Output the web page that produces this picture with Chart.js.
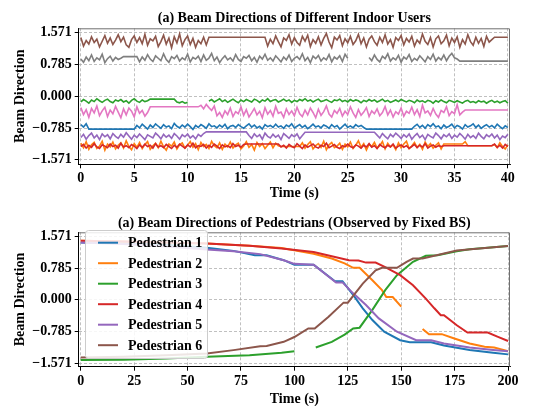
<!DOCTYPE html>
<html>
<head>
<meta charset="utf-8">
<script src="https://cdn.jsdelivr.net/npm/chart.js@4.4.1/dist/chart.umd.min.js"></script>
<style>
  body { margin: 0; background: #fff; }
  #wrap { position: relative; width: 557px; height: 406px; }
  canvas { position: absolute; left: 0; }
  #indoorChart { top: 0; }
  #pedChart { top: 200px; }
</style>
</head>
<body>
<div id="wrap">
  <canvas id="indoorChart" width="557" height="200"></canvas>
  <canvas id="pedChart" width="557" height="206"></canvas>
</div>
<script>
const COLORS = ['#1f77b4', '#ff7f0e', '#2ca02c', '#d62728', '#9467bd', '#8c564b', '#e377c2', '#7f7f7f'];
const FONT = 'Liberation Serif';

const beamTicks = [-1.571, -0.785, 0, 0.785, 1.571];
const beamTickLabels = ['\u22121.571', '\u22120.785', '0.000', '0.785', '1.571'];
const indoorTimeTicks = [0, 5, 10, 15, 20, 25, 30, 35, 40];
const pedTimeTicks = [0, 25, 50, 75, 100, 125, 150, 175, 200];

// indoor users, one sample every 0.25 s from 0 to 40 s
const indoorTime = Array.from({ length: 161 }, (_, i) => i * 0.25);

const user1 = [
  -0.70, -0.76, -0.68,
  -0.81, -0.81, -0.81, -0.81, -0.81, -0.81, -0.81, -0.81, -0.81, -0.81,
  -0.81, -0.81, -0.81, -0.81, -0.81, -0.81, -0.81, -0.81,
  -0.72, -0.78, -0.69, -0.75, -0.81, -0.71, -0.77, -0.68, -0.74, -0.79,
  -0.70, -0.76, -0.73, -0.80, -0.67, -0.74, -0.78, -0.71, -0.76, -0.69,
  -0.75, -0.82, -0.72, -0.77, -0.70, -0.74, -0.79, -0.68, -0.75, -0.73,
  -0.78, -0.71, -0.76, -0.69, -0.80, -0.74, -0.72, -0.77, -0.70, -0.75,
  -0.79, -0.73, -0.68, -0.76, -0.71, -0.78, -0.74, -0.81, -0.70, -0.75,
  -0.72, -0.77, -0.69, -0.76, -0.73, -0.79, -0.71, -0.75, -0.68, -0.78,
  -0.74, -0.70, -0.77, -0.72, -0.80, -0.75, -0.69, -0.76, -0.73, -0.78,
  -0.71, -0.74, -0.79, -0.70, -0.76, -0.72, -0.81, -0.75, -0.69, -0.77,
  -0.73, -0.78, -0.70, -0.75, -0.72, -0.77,
  -0.81, -0.81, -0.81, -0.81, -0.81, -0.81, -0.81, -0.81, -0.81, -0.81,
  -0.81, -0.81, -0.81, -0.81, -0.81, -0.81, -0.81, -0.81,
  -0.74, -0.69, -0.77, -0.72, -0.79, -0.70, -0.75, -0.68, -0.76, -0.73,
  -0.80, -0.71, -0.77, -0.74, -0.69, -0.78, -0.72, -0.75, -0.81, -0.70,
  -0.76, -0.73, -0.68, -0.77, -0.71, -0.79, -0.74, -0.70, -0.76, -0.72,
  -0.78, -0.69, -0.75, -0.80, -0.73, -0.77
];

const user2 = [
  -1.16, -1.27, -1.12, -1.31, -1.20, -1.14, -1.29, -1.23, -1.11, -1.33,
  -1.18, -1.25, -1.13, -1.30, -1.21, -1.15, -1.28, -1.10, -1.24, -1.32,
  -1.17, -1.26, -1.14, -1.29, -1.19, -1.12, -1.31, -1.22, -1.16, -1.27,
  -1.11, -1.25, -1.33, -1.18, -1.23, -1.13, -1.30, -1.20, -1.15, -1.28,
  -1.21, -1.12, -1.26, -1.17, -1.32, -1.14, -1.24, -1.19, -1.29, -1.11,
  -1.22, -1.27, -1.15, -1.31, -1.18, -1.25, -1.13, -1.28, -1.20, -1.16,
  -1.30, -1.23, -1.12, -1.26, -1.19, -1.33, -1.14, -1.24, -1.17, -1.29,
  -1.21, -1.13, -1.27, -1.16, -1.22,
  -1.24, -1.24, -1.24, -1.24, -1.24, -1.24, -1.24, -1.24,
  -1.15, -1.28, -1.19, -1.12, -1.30, -1.22, -1.17, -1.26, -1.11, -1.32,
  -1.20, -1.14, -1.27, -1.23, -1.16, -1.31, -1.18, -1.25, -1.13, -1.29,
  -1.21, -1.10, -1.26, -1.17, -1.33, -1.19, -1.24, -1.14, -1.28, -1.22,
  -1.12, -1.30, -1.16, -1.25, -1.20, -1.32, -1.15, -1.27, -1.18, -1.11,
  -1.29, -1.23, -1.14, -1.26, -1.19, -1.31, -1.13, -1.24, -1.17, -1.28,
  -1.21, -1.15, -1.30, -1.18,
  -1.18, -1.18, -1.18, -1.18, -1.18, -1.18, -1.18,
  -1.12,
  -1.22, -1.22, -1.22, -1.22, -1.22, -1.22, -1.22, -1.22, -1.22, -1.22,
  -1.19, -1.27, -1.15, -1.24, -1.30, -1.20
];

const user3 = [
  -0.14, -0.08, -0.12, -0.17, -0.09, -0.13, -0.06, -0.11, -0.15, -0.10,
  -0.07, -0.13, -0.16, -0.09, -0.12, -0.08, -0.14, -0.11, -0.17, -0.10,
  -0.06, -0.12, -0.15, -0.09, -0.13, -0.11,
  -0.07, -0.07, -0.07, -0.07, -0.07, -0.07, -0.07, -0.07, -0.07, -0.07,
  -0.14, -0.16, -0.13, -0.17, -0.15,
  null, null, null, null, null, null, null,
  -0.12, -0.08, -0.14, -0.10, -0.06, -0.13, -0.09, -0.15, -0.11, -0.07,
  -0.12, -0.16, -0.09, -0.13, -0.08, -0.11, -0.14, -0.07, -0.10, -0.15,
  -0.09, -0.12, -0.06, -0.13, -0.10, -0.08, -0.14, -0.11, -0.07, -0.12,
  -0.09, -0.15, -0.10, -0.13, -0.08, -0.11, -0.06, -0.12, -0.09, -0.14,
  -0.10, -0.07, -0.13, -0.11, -0.08, -0.12, -0.15, -0.09, -0.11, -0.07,
  -0.13, -0.10, -0.14, -0.08, -0.12, -0.09, -0.11, -0.16, -0.10, -0.13,
  -0.08, -0.12, -0.09, -0.14, -0.11, -0.07, -0.13, -0.10, -0.15, -0.12,
  -0.09, -0.13, -0.08, -0.11, -0.14, -0.10, -0.12, -0.16, -0.09, -0.13,
  -0.11, -0.15, -0.10, -0.12, -0.17, -0.11, -0.14, -0.09, -0.13, -0.16,
  -0.10, -0.12, -0.15, -0.11, -0.14, -0.17, -0.12, -0.10, -0.15, -0.13,
  -0.16, -0.11, -0.14, -0.12, -0.17, -0.13, -0.10, -0.15, -0.12, -0.16,
  -0.13, -0.11, -0.17
];

const user4 = [
  -1.24, -1.19, -1.28, -1.21, -1.26, -1.17, -1.25, -1.29, -1.20, -1.23,
  -1.27, -1.18, -1.24, -1.21, -1.28, -1.16, -1.25, -1.22, -1.27, -1.19,
  -1.23, -1.29, -1.20, -1.26, -1.18, -1.24, -1.21, -1.28, -1.17, -1.25,
  -1.22, -1.27, -1.19, -1.24, -1.29, -1.21, -1.26, -1.18, -1.23, -1.28,
  -1.20, -1.25, -1.16, -1.27, -1.22, -1.24, -1.19, -1.28, -1.21, -1.26,
  -1.18, -1.23, -1.29, -1.20, -1.25, -1.22, -1.27, -1.17, -1.24, -1.21,
  -1.26, -1.19,
  -1.18, -1.18, -1.18, -1.18, -1.18, -1.18, -1.18, -1.18, -1.18, -1.18,
  -1.18, -1.18, -1.18,
  -1.25, -1.21, -1.28, -1.19, -1.24, -1.27, -1.17, -1.23, -1.29, -1.20,
  -1.26, -1.22, -1.18, -1.25, -1.28, -1.21, -1.24, -1.16, -1.27, -1.23,
  -1.19, -1.26, -1.29, -1.22, -1.25, -1.18, -1.24, -1.27, -1.20, -1.23,
  -1.28, -1.21, -1.25, -1.17, -1.26, -1.22, -1.29, -1.19, -1.24, -1.27,
  -1.21, -1.25, -1.18, -1.28, -1.23, -1.20, -1.26, -1.22, -1.29, -1.24,
  -1.19, -1.27, -1.21, -1.25, -1.17, -1.28, -1.23, -1.20, -1.26, -1.22,
  -1.24,
  -1.22, -1.22, -1.22, -1.22, -1.22, -1.22, -1.22, -1.22, -1.22, -1.22,
  -1.22, -1.22, -1.22, -1.22, -1.22, -1.22, -1.22, -1.22, -1.22,
  -1.18, -1.26, -1.21, -1.28, -1.19, -1.24
];

const user5 = [
  -1.02, -0.94, -1.06, -0.97, -0.91, -1.03, -0.96, -1.07, -0.93, -1.00,
  -0.95, -1.05, -0.92, -0.99, -1.04, -0.94, -1.01, -0.90, -0.98, -1.06,
  -0.96, -1.02, -0.93, -1.00, -1.07, -0.95, -0.99, -1.03, -0.91, -0.97,
  -1.05, -0.94, -1.01, -0.96, -1.04, -0.92, -0.98, -1.06, -0.95, -1.00,
  -0.93, -1.03, -0.97, -1.05, -0.94, -0.99, -0.92,
  -0.88, -0.88, -0.88, -0.88, -0.88, -0.88, -0.88, -0.88, -0.88, -0.88,
  -0.88, -0.88, -0.88, -0.88, -0.88, -0.88,
  -0.97, -1.04, -0.93, -1.00, -0.95, -1.06, -0.91, -0.99, -1.03, -0.94,
  -1.01, -0.96, -1.07, -0.92, -0.98, -1.04, -0.95, -1.00, -0.93, -1.05,
  -0.97,
  -0.89, -0.89, -0.89, -0.89, -0.89, -0.89, -0.89, -0.89, -0.89, -0.89,
  -0.89, -0.89, -0.89, -0.89, -0.89, -0.89, -0.89, -0.89, -0.89, -0.89,
  -0.89, -0.89, -0.89, -0.89, -0.89, -0.89, -0.89,
  -0.96, -1.03, -0.92, -0.99, -1.05, -0.94, -1.00, -0.91, -0.97, -1.04,
  -0.95, -1.01, -0.93, -1.06, -0.98, -0.92, -1.02, -0.96, -1.07, -0.94,
  -0.99, -1.03, -0.91, -0.97, -1.05, -0.95, -1.00, -0.93, -1.04, -0.96,
  -1.01, -0.92, -0.98, -1.06, -0.94, -1.02, -0.97, -1.04, -0.91, -0.99,
  -1.05, -0.95, -1.00, -0.93, -1.03, -0.96, -1.07, -0.98, -1.02, -0.94
];

const user6 = [
  1.45, 1.24, 1.38, 1.29, 1.47, 1.33, 1.41, 1.22, 1.36, 1.50,
  1.31, 1.44, 1.28, 1.39, 1.52, 1.35, 1.46, 1.27, 1.21, 1.40,
  1.49, 1.33, 1.45, 1.30, 1.53, 1.26, 1.42, 1.37, 1.48, 1.23,
  1.35, 1.51, 1.29, 1.44, 1.20, 1.47, 1.32, 1.54, 1.25, 1.40,
  1.49, 1.28, 1.43, 1.21, 1.38, 1.30, 1.46, 1.27,
  1.46, 1.46, 1.46, 1.46, 1.46, 1.46, 1.46, 1.46, 1.46, 1.46,
  1.46, 1.46, 1.46, 1.46, 1.46, 1.46, 1.46, 1.46, 1.46, 1.46,
  1.46, 1.46,
  1.24, 1.41, 1.30, 1.49, 1.35, 1.22, 1.44, 1.38, 1.52, 1.29,
  1.45, 1.33, 1.26, 1.48, 1.36, 1.51, 1.23, 1.40, 1.31, 1.47,
  1.27, 1.43, 1.55, 1.34, 1.20, 1.46, 1.39, 1.50, 1.25, 1.42,
  1.32, 1.48, 1.28, 1.37, 1.53, 1.30, 1.44, 1.22, 1.41, 1.49,
  1.35, 1.26, 1.46, 1.33, 1.52, 1.29, 1.40, 1.21, 1.45, 1.38,
  1.50, 1.27, 1.43, 1.34, 1.48, 1.24, 1.39, 1.31, 1.54, 1.36,
  1.28, 1.45, 1.22, 1.42, 1.49, 1.30, 1.37, 1.51, 1.25, 1.44,
  1.33, 1.47, 1.21, 1.40, 1.29, 1.52, 1.35, 1.26, 1.46, 1.31,
  1.43, 1.23, 1.48, 1.34, 1.40,
  1.46, 1.46, 1.46, 1.46, 1.46, 1.46
];

const user7 = [
  -0.28, -0.45, -0.33, -0.52, -0.30, -0.41, -0.24, -0.48, -0.36, -0.27,
  -0.50, -0.34, -0.43, -0.25, -0.39, -0.53, -0.31, -0.46, -0.29, -0.37,
  -0.51, -0.26, -0.42, -0.35, -0.49, -0.40,
  -0.26, -0.26, -0.26, -0.26, -0.26, -0.26, -0.26, -0.26, -0.26, -0.26,
  -0.26, -0.26, -0.26, -0.26, -0.26, -0.26, -0.26, -0.26, -0.26,
  -0.22, -0.31, -0.20, -0.28, -0.35, -0.24,
  -0.48, -0.40, -0.52, -0.36, -0.45, -0.29, -0.50, -0.38, -0.43, -0.26,
  -0.47, -0.33, -0.51, -0.41, -0.30, -0.46, -0.37, -0.53, -0.28, -0.44,
  -0.35, -0.49, -0.25, -0.42, -0.39, -0.52, -0.31, -0.45, -0.36, -0.48,
  -0.27, -0.43, -0.50, -0.34, -0.46, -0.29, -0.40, -0.53, -0.32, -0.47,
  -0.38, -0.24, -0.44, -0.51, -0.35, -0.42, -0.30, -0.49, -0.37, -0.45,
  -0.26, -0.41, -0.52, -0.33, -0.47, -0.39, -0.28, -0.50, -0.36, -0.43,
  -0.31, -0.48, -0.40, -0.25, -0.46, -0.34, -0.51, -0.38, -0.44, -0.29,
  -0.49, -0.37, -0.42, -0.27, -0.45, -0.33, -0.50, -0.22, -0.41, -0.36,
  -0.47, -0.30, -0.44,
  -0.52, -0.35, -0.40, -0.26, -0.48, -0.38, -0.43, -0.21, -0.46, -0.39,
  -0.34, -0.34, -0.34, -0.34, -0.34, -0.34, -0.34, -0.34, -0.34, -0.34,
  -0.34, -0.34, -0.34, -0.34, -0.34, -0.34, -0.34
];

const user8 = [
  0.92, 0.84, 0.97, 0.88, 1.02, 0.86, 0.95, 0.90, 1.04, 0.83,
  0.93, 0.99, 0.87, 0.96, 0.91, 0.94,
  0.98, 0.98, 0.98, 0.98, 0.98, 0.98,
  0.85, 0.97, 0.89, 1.03, 0.92, 0.86, 1.00, 0.94, 0.88, 1.05,
  0.91, 0.84, 0.98, 0.93, 1.01, 0.87, 0.95, 0.90, 1.04, 0.85,
  0.96, 0.92, 0.99, 0.86, 1.02, 0.89, 0.94, 1.06, 0.88, 0.97,
  0.83, 0.93, 1.00, 0.90, 0.95, 0.87, 1.03, 0.91, 0.86, 0.98,
  0.94, 1.01, 0.88, 0.96, 0.84, 0.99, 0.92, 1.04, 0.89, 0.95,
  0.87, 1.00, 0.93, 0.85, 0.97, 0.90, 1.02, 0.86, 0.94, 0.98,
  0.91, 1.05, 0.88, 0.96, 0.83, 0.99, 0.93, 1.01, 0.87, 0.95,
  0.90, 1.03, 0.85, 0.97, 0.92, 1.00, 0.86, 1.04, 0.94,
  null, null, null, null, null, null, null,
  0.96, 0.88, 1.02, 0.91, 0.85, 0.99, 0.93, 1.05, 0.87, 0.95,
  0.90, 1.01, 0.84, 0.97, 0.92, 1.03, 0.86, 0.94, 0.89, 1.00,
  0.93, 0.85, 0.98, 0.91, 1.04, 0.87, 0.96, 0.90, 1.02, 0.88,
  0.99, 1.06, 0.95, 0.92,
  0.87, 0.87, 0.87, 0.87, 0.87, 0.87, 0.87, 0.87, 0.87, 0.87,
  0.87, 0.87, 0.87, 0.87, 0.87, 0.87, 0.87, 0.87, 0.87
];

const indoorSeries = [user1, user2, user3, user4, user5, user6, user7, user8];
indoorSeries.forEach((s, k) => {
  if (s.length !== indoorTime.length) throw new Error('user' + (k + 1) + ' has ' + s.length + ' samples');
});

// pedestrians: breakpoints of each track (null = track lost)
const pedLabels = ['Pedestrian 1', 'Pedestrian 2', 'Pedestrian 3', 'Pedestrian 4', 'Pedestrian 5', 'Pedestrian 6'];

const ped1Time = [0, 20, 40, 59, 71.5, 81.5, 87, 95, 100, 109, 119, 122.5, 127.5, 132, 136.5, 142, 149.5, 154, 164, 170, 182, 193, 200];
const ped1Beam = [1.42, 1.40, 1.36, 1.29, 1.21, 1.10, 1.10, 0.98, 0.87, 0.87, 0.46, 0.46, 0.12, -0.21, -0.50, -0.79, -1.00, -1.05, -1.05, -1.13, -1.24, -1.31, -1.35];

const ped2Time = [0, 20, 40, 59, 79, 94, 109, 117.5, 123.5, 127.5, 130.5, 136.5, 141, 143, 146, 150, 155, 160, 163, 169, 174.5, 182, 189, 193.5, 200];
const ped2Beam = [1.46, 1.44, 1.42, 1.39, 1.34, 1.28, 1.14, 1.02, 0.90, 0.79, 0.79, 0.485, 0.24, 0.07, 0.07, -0.17, null, -0.72, -0.85, -0.85, -0.95, -1.08, -1.16, -1.18, -1.27];

const ped3Time = [0, 20, 40, 59, 79, 94, 100, 105, 110, 117.5, 123.5, 127.5, 130.5, 136.5, 142.5, 148, 155.5, 161.5, 167, 176, 182, 200];
const ped3Beam = [-1.49, -1.48, -1.45, -1.41, -1.37, -1.31, -1.27, null, -1.18, -1.04, -0.86, -0.71, -0.69, -0.25, 0.24, 0.61, 0.94, 1.09, 1.10, 1.20, 1.25, 1.33];

const ped4Time = [0, 20, 40, 59, 79, 94, 109, 119, 125.5, 130, 133.5, 138, 142.5, 149.5, 155.5, 161.5, 165.5, 168.5, 170, 176, 181, 190.5, 195, 200];
const ped4Beam = [1.46, 1.44, 1.42, 1.39, 1.34, 1.27, 1.18, 1.06, 0.98, 0.97, 0.92, 0.92, 0.81, 0.61, 0.36, 0.03, -0.21, -0.38, -0.38, -0.63, -0.81, -0.81, -0.91, -1.02];

const ped5Time = [0, 20, 40, 59, 71.5, 84, 95, 100, 109, 119.5, 122.5, 127.5, 133.5, 139.5, 148, 157, 164, 170, 182, 193, 200];
const ped5Beam = [1.42, 1.38, 1.32, 1.245, 1.20, 1.13, 0.98, 0.89, 0.87, 0.43, 0.43, 0.16, -0.13, -0.46, -0.79, -1.00, -1.00, -1.08, -1.18, -1.24, -1.27];

const ped6Time = [0, 20, 40, 59, 71.5, 84, 87, 95, 100, 106.5, 109.5, 116, 123, 125, 132, 138, 141, 148, 152.5, 155.5, 160, 176, 200];
const ped6Beam = [-1.43, -1.41, -1.37, -1.33, -1.245, -1.15, -1.14, -1.04, -0.92, -0.71, -0.71, -0.42, -0.07, -0.07, 0.40, 0.73, 0.79, 0.79, 0.94, 1.02, 1.02, 1.22, 1.33];

const pedTimes = [ped1Time, ped2Time, ped3Time, ped4Time, ped5Time, ped6Time];
const pedBeams = [ped1Beam, ped2Beam, ped3Beam, ped4Beam, ped5Beam, ped6Beam];

function toPoints(ts, vs) {
  return ts.map((t, i) => ({ x: t, y: vs[i] }));
}

function lineDataset(label, points, color, index, width) {
  return {
    label: label,
    data: points,
    borderColor: color,
    backgroundColor: color,
    borderWidth: width,
    pointRadius: 0,
    tension: 0,
    spanGaps: false,
    // later series are painted over earlier ones
    order: -index
  };
}

function buildScales(opts) {
  const tickFont = { family: FONT, size: 14, weight: 'bold' };
  const titleFont = { family: FONT, size: 14, weight: 'bold', lineHeight: 1 };
  const grid = { color: '#b0b0b0', lineWidth: 0.8, tickLength: 4, tickColor: '#000', tickWidth: 1 };
  return {
    x: {
      type: 'linear',
      min: opts.xMin,
      max: opts.xMax,
      afterBuildTicks: s => { s.ticks = opts.xTicks.map(v => ({ value: v })); },
      afterFit: s => { s.height = opts.xHeight; },
      ticks: { font: tickFont, color: '#000', padding: 2, maxRotation: 0, autoSkip: false, callback: v => String(v) },
      grid: grid,
      border: { color: '#000', width: 1, dash: [3, 2] },
      title: { display: true, text: 'Time (s)', font: titleFont, color: '#000', padding: 0 }
    },
    y: {
      type: 'linear',
      min: opts.yMin,
      max: opts.yMax,
      afterBuildTicks: s => { s.ticks = beamTicks.map(v => ({ value: v })); },
      afterFit: s => { s.width = 78.7; },
      ticks: { font: tickFont, color: '#000', padding: 3, autoSkip: false, callback: v => beamTickLabels[beamTicks.indexOf(v)] },
      grid: grid,
      border: { color: '#000', width: 1, dash: [3, 2] },
      title: { display: true, text: 'Beam Direction', font: { family: FONT, size: 14, weight: 'bold', lineHeight: 1.2 }, color: '#000', padding: { top: 11.6 } }
    }
  };
}

// top and right edges of the axes box
const framePlugin = {
  id: 'frame',
  afterDatasetsDraw(chart) {
    const { ctx, chartArea: a } = chart;
    ctx.save();
    ctx.strokeStyle = '#707070';
    ctx.lineWidth = 1;
    ctx.beginPath();
    ctx.moveTo(a.left, a.top + 0.5);
    ctx.lineTo(a.right - 0.5, a.top + 0.5);
    ctx.lineTo(a.right - 0.5, a.bottom);
    ctx.stroke();
    ctx.restore();
  }
};

// boxed legend drawn inside the plot, over the lines
const boxLegendPlugin = {
  id: 'boxLegend',
  afterDatasetsDraw(chart, args, o) {
    const { ctx } = chart;
    ctx.save();
    ctx.beginPath();
    ctx.roundRect(o.left + 0.5, o.top + 0.5, o.width, o.height, 3);
    ctx.fillStyle = 'rgba(255,255,255,0.85)';
    ctx.fill();
    ctx.strokeStyle = '#cccccc';
    ctx.lineWidth = 1;
    ctx.stroke();
    ctx.font = 'bold 14px "' + FONT + '"';
    ctx.textBaseline = 'middle';
    ctx.textAlign = 'left';
    chart.data.datasets.forEach((ds, i) => {
      const y = o.firstRow + i * o.rowGap;
      ctx.strokeStyle = ds.borderColor;
      ctx.lineWidth = 2;
      ctx.beginPath();
      ctx.moveTo(o.handleStart, y);
      ctx.lineTo(o.handleEnd, y);
      ctx.stroke();
      ctx.fillStyle = '#000';
      ctx.fillText(ds.label, o.textStart, y + 1);
    });
    ctx.restore();
  }
};

new Chart(document.getElementById('indoorChart'), {
  type: 'line',
  data: {
    datasets: indoorSeries.map((s, i) => lineDataset('User ' + (i + 1), toPoints(indoorTime, s), COLORS[i], i, 1.6))
  },
  options: {
    responsive: false,
    animation: false,
    devicePixelRatio: 1,
    layout: { padding: { left: 0, right: 47, top: 0, bottom: 0 } },
    scales: buildScales({ xMin: -0.2, xMax: 40.2, xTicks: indoorTimeTicks, yMin: -1.68, yMax: 1.68, xHeight: 35.7 }),
    plugins: {
      legend: { display: false },
      tooltip: { enabled: false },
      title: {
        display: true,
        fullSize: false,
        text: '(a) Beam Directions of Different Indoor Users',
        color: '#000',
        font: { family: FONT, size: 14, weight: 'bold', lineHeight: 1.2 },
        padding: { top: 9.8, bottom: 1.7 }
      }
    }
  },
  plugins: [framePlugin]
});

new Chart(document.getElementById('pedChart'), {
  type: 'line',
  data: {
    datasets: pedLabels.map((label, i) => lineDataset(label, toPoints(pedTimes[i], pedBeams[i]), COLORS[i], i, 2))
  },
  options: {
    responsive: false,
    animation: false,
    devicePixelRatio: 1,
    layout: { padding: { left: 0, right: 47, top: 0, bottom: 0 } },
    scales: buildScales({ xMin: -0.95, xMax: 200.9, xTicks: pedTimeTicks, yMin: -1.655, yMax: 1.67, xHeight: 39.3 }),
    plugins: {
      legend: { display: false },
      tooltip: { enabled: false },
      title: {
        display: true,
        fullSize: false,
        text: '(a) Beam Directions of Pedestrians (Observed by Fixed BS)',
        color: '#000',
        font: { family: FONT, size: 14, weight: 'bold', lineHeight: 1.2 },
        padding: { top: 14.5, bottom: 1.0 }
      },
      boxLegend: { left: 85, top: 30, width: 122, height: 128, firstRow: 42.7, rowGap: 20.5, handleStart: 98, handleEnd: 118, textStart: 128 }
    }
  },
  plugins: [framePlugin, boxLegendPlugin]
});
</script>
</body>
</html>
